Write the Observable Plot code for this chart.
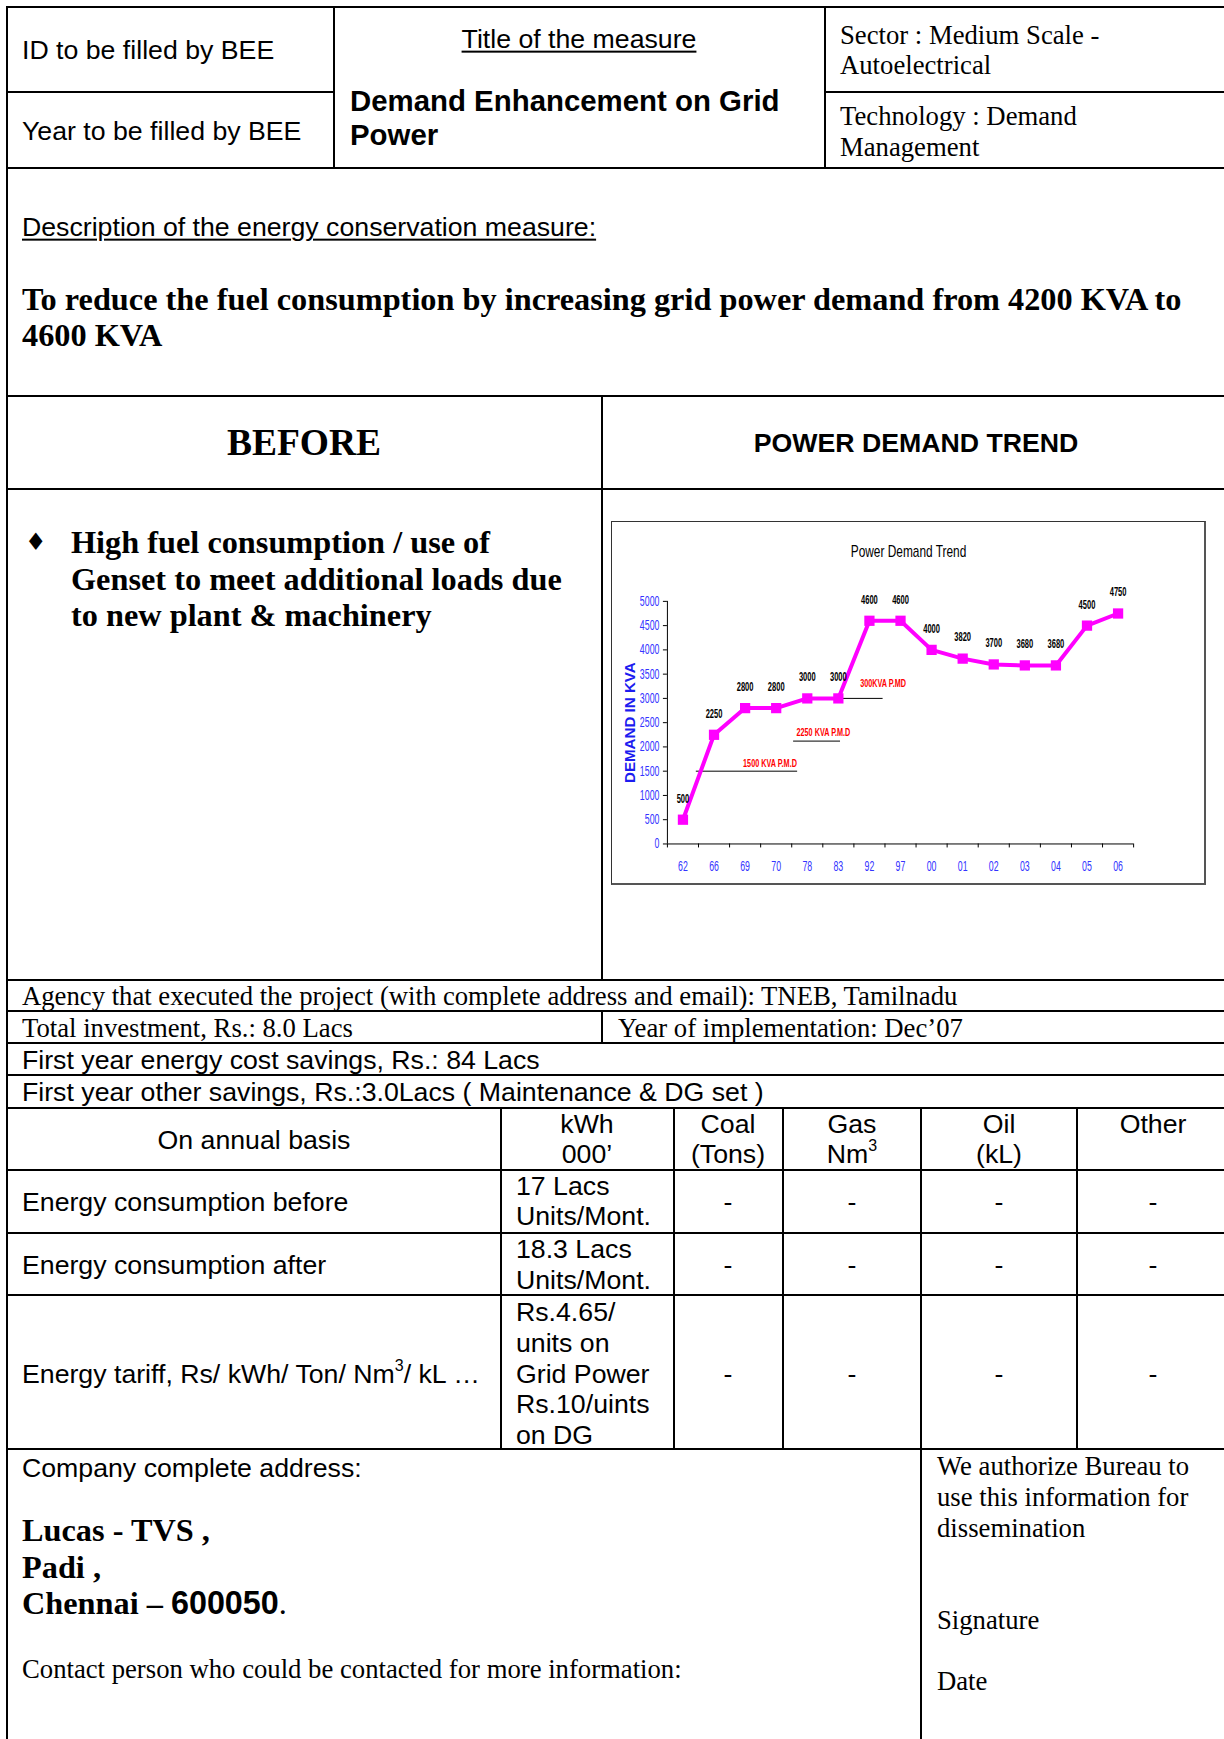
<!DOCTYPE html>
<html><head><meta charset="utf-8">
<script src="https://cdn.jsdelivr.net/npm/d3@7"></script>
<script src="https://cdn.jsdelivr.net/npm/@observablehq/plot@0.6"></script>
<style>
html,body{margin:0;padding:0;background:#fff;}
body{width:1224px;height:1739px;position:relative;overflow:hidden;}
.h{position:absolute;height:2px;background:#000;}
.v{position:absolute;width:2px;background:#000;}
.t{position:absolute;white-space:nowrap;line-height:1.15;color:#000;transform:translateY(-50%);}
.tc{position:absolute;white-space:nowrap;line-height:1.15;color:#000;transform:translate(-50%,-50%);text-align:center;}
.a{font-family:"Liberation Sans",Arial,sans-serif;font-size:26.7px;}
.ab{font-family:"Liberation Sans",Arial,sans-serif;font-size:29.4px;font-weight:bold;}
.s{font-family:"Liberation Serif","Times New Roman",serif;font-size:26.7px;}
.sb{font-family:"Liberation Serif","Times New Roman",serif;font-weight:bold;font-size:32.3px;}
u{text-decoration:underline;text-underline-offset:3px;text-decoration-thickness:2px}
sup{font-size:60%;line-height:0;vertical-align:0.75em}
#chartbox{position:absolute;left:611px;top:521px;width:595px;height:364px;border:1px solid #333;border-right:2px solid #555;border-bottom:2px solid #555;box-sizing:border-box;background:#fff}
#chartbox svg{position:absolute;left:0;top:0}
</style>
</head>
<body>
<!-- horizontal rules -->
<div class="h" style="left:6px;top:6px;width:1218px"></div>
<div class="h" style="left:6px;top:91px;width:328px"></div>
<div class="h" style="left:825px;top:91px;width:399px"></div>
<div class="h" style="left:6px;top:167px;width:1218px"></div>
<div class="h" style="left:6px;top:395px;width:1218px"></div>
<div class="h" style="left:6px;top:488px;width:1218px"></div>
<div class="h" style="left:6px;top:979px;width:1218px"></div>
<div class="h" style="left:6px;top:1010px;width:1218px"></div>
<div class="h" style="left:6px;top:1042px;width:1218px"></div>
<div class="h" style="left:6px;top:1074px;width:1218px"></div>
<div class="h" style="left:6px;top:1107px;width:1218px"></div>
<div class="h" style="left:6px;top:1169px;width:1218px"></div>
<div class="h" style="left:6px;top:1232px;width:1218px"></div>
<div class="h" style="left:6px;top:1294px;width:1218px"></div>
<div class="h" style="left:6px;top:1448px;width:1218px"></div>
<!-- vertical rules -->
<div class="v" style="left:6px;top:6px;height:1733px"></div>
<div class="v" style="left:333px;top:6px;height:162px"></div>
<div class="v" style="left:824px;top:6px;height:162px"></div>
<div class="v" style="left:601px;top:395px;height:585px"></div>
<div class="v" style="left:601px;top:1010px;height:33px"></div>
<div class="v" style="left:500px;top:1107px;height:342px"></div>
<div class="v" style="left:673px;top:1107px;height:342px"></div>
<div class="v" style="left:782px;top:1107px;height:342px"></div>
<div class="v" style="left:920px;top:1107px;height:632px"></div>
<div class="v" style="left:1076px;top:1107px;height:342px"></div>

<!-- header -->
<div class="t a" style="left:22px;top:50px">ID to be filled by BEE</div>
<div class="t a" style="left:22px;top:131px">Year to be filled by BEE</div>
<div class="tc a" style="left:579px;top:39px"><u>Title of the measure</u></div>
<div class="t ab" style="left:350px;top:101px">Demand Enhancement on Grid</div>
<div class="t ab" style="left:350px;top:135px">Power</div>
<div class="t s" style="left:840px;top:35px">Sector : Medium Scale -</div>
<div class="t s" style="left:840px;top:65px">Autoelectrical</div>
<div class="t s" style="left:840px;top:116px">Technology : Demand</div>
<div class="t s" style="left:840px;top:147px">Management</div>

<!-- description -->
<div class="t a" style="left:22px;top:227px"><u>Description of the energy conservation measure:</u></div>
<div class="t sb" style="left:22px;top:300px">To reduce the fuel consumption by increasing grid power demand from 4200 KVA to</div>
<div class="t sb" style="left:22px;top:336px">4600 KVA</div>

<!-- before / trend -->
<div class="tc" style="left:304px;top:443px;font-family:'Liberation Serif',serif;font-weight:bold;font-size:37.5px">BEFORE</div>
<div class="tc" style="left:916px;top:443px;font-family:'Liberation Sans',Arial,sans-serif;font-weight:bold;font-size:26.7px">POWER DEMAND TREND</div>
<div class="t" style="left:25px;top:543px;font-family:'DejaVu Sans',sans-serif;font-size:24px">&#9830;</div>
<div class="t sb" style="left:71px;top:543px">High fuel consumption / use of</div>
<div class="t sb" style="left:71px;top:580px">Genset to meet additional loads due</div>
<div class="t sb" style="left:71px;top:616px">to new plant &amp; machinery</div>

<div id="chartbox"></div>

<!-- info rows -->
<div class="t s" style="left:22px;top:996px">Agency that executed the project (with complete address and email): TNEB, Tamilnadu</div>
<div class="t s" style="left:22px;top:1028px">Total investment, Rs.: 8.0 Lacs</div>
<div class="t s" style="left:618px;top:1028px">Year of implementation: Dec’07</div>
<div class="t a" style="left:22px;top:1060px">First year energy cost savings, Rs.: 84 Lacs</div>
<div class="t a" style="left:22px;top:1092px">First year other savings, Rs.:3.0Lacs ( Maintenance &amp; DG set )</div>

<!-- table header -->
<div class="tc a" style="left:254px;top:1140px">On annual basis</div>
<div class="tc a" style="left:587px;top:1124px">kWh</div>
<div class="tc a" style="left:587px;top:1154px">000’</div>
<div class="tc a" style="left:728px;top:1124px">Coal</div>
<div class="tc a" style="left:728px;top:1154px">(Tons)</div>
<div class="tc a" style="left:852px;top:1124px">Gas</div>
<div class="tc a" style="left:852px;top:1154px">Nm<sup>3</sup></div>
<div class="tc a" style="left:999px;top:1124px">Oil</div>
<div class="tc a" style="left:999px;top:1154px">(kL)</div>
<div class="tc a" style="left:1153px;top:1124px">Other</div>

<!-- table rows -->
<div class="t a" style="left:22px;top:1202px">Energy consumption before</div>
<div class="t a" style="left:516px;top:1186px">17 Lacs</div>
<div class="t a" style="left:516px;top:1216px">Units/Mont.</div>
<div class="t a" style="left:22px;top:1265px">Energy consumption after</div>
<div class="t a" style="left:516px;top:1249px">18.3 Lacs</div>
<div class="t a" style="left:516px;top:1280px">Units/Mont.</div>
<div class="t a" style="left:22px;top:1374px">Energy tariff, Rs/ kWh/ Ton/ Nm<sup>3</sup>/ kL …</div>
<div class="t a" style="left:516px;top:1312px">Rs.4.65/</div>
<div class="t a" style="left:516px;top:1343px">units on</div>
<div class="t a" style="left:516px;top:1374px">Grid Power</div>
<div class="t a" style="left:516px;top:1404px">Rs.10/uints</div>
<div class="t a" style="left:516px;top:1435px">on DG</div>
<div class="tc a" style="left:728px;top:1202px">-</div>
<div class="tc a" style="left:852px;top:1202px">-</div>
<div class="tc a" style="left:999px;top:1202px">-</div>
<div class="tc a" style="left:1153px;top:1202px">-</div>
<div class="tc a" style="left:728px;top:1265px">-</div>
<div class="tc a" style="left:852px;top:1265px">-</div>
<div class="tc a" style="left:999px;top:1265px">-</div>
<div class="tc a" style="left:1153px;top:1265px">-</div>
<div class="tc a" style="left:728px;top:1374px">-</div>
<div class="tc a" style="left:852px;top:1374px">-</div>
<div class="tc a" style="left:999px;top:1374px">-</div>
<div class="tc a" style="left:1153px;top:1374px">-</div>

<!-- address -->
<div class="t a" style="left:22px;top:1468px">Company complete address:</div>
<div class="t sb" style="left:22px;top:1531px">Lucas - TVS ,</div>
<div class="t sb" style="left:22px;top:1568px">Padi ,</div>
<div class="t sb" style="left:22px;top:1604px">Chennai – <span style="font-family:'Liberation Sans',Arial,sans-serif">600050</span><span style="font-weight:normal">.</span></div>
<div class="t s" style="left:22px;top:1669px">Contact person who could be contacted for more information:</div>
<div class="t s" style="left:937px;top:1466px">We authorize Bureau to</div>
<div class="t s" style="left:937px;top:1497px">use this information for</div>
<div class="t s" style="left:937px;top:1528px">dissemination</div>
<div class="t s" style="left:937px;top:1620px">Signature</div>
<div class="t s" style="left:937px;top:1681px">Date</div>

<script>
const years = ["62","66","69","70","78","83","92","97","00","01","02","03","04","05","06"];
const demandKVA = [500,2250,2800,2800,3000,3000,4600,4600,4000,3820,3700,3680,3680,4500,4750];
const yTickValues = [0,500,1000,1500,2000,2500,3000,3500,4000,4500,5000];
const pmdNames = ["1500 KVA P.M.D","2250 KVA P.M.D","300KVA P.MD"];
const pmdLevel = [1500, 2120, 3000];
const pmdFrom = [0.43, 3.56, 5.10];
const pmdTo = [3.69, 5.07, 6.44];
const pmdTextAt = [2.80, 4.52, 6.44];
const pmdTextLevel = [1660, 2290, 3300];
const chartTitle = "Power Demand Trend";
const yTitle = "DEMAND IN KVA";

const rows = years.map((year, i) => ({i, year, kva: demandKVA[i]}));
const pmd = pmdNames.map((name, k) => ({name, level: pmdLevel[k], from: pmdFrom[k], to: pmdTo[k], tx: pmdTextAt[k], ty: pmdTextLevel[k]}));
const bounds = d3.range(-0.5, 15, 1);

const chart = Plot.plot({
  width: 593, height: 361,
  marginLeft: 55, marginTop: 79, marginBottom: 39, marginRight: 71,
  style: {fontFamily: '"Liberation Sans",Arial,sans-serif', fontSize: "14px", background: "transparent", overflow: "visible"},
  x: {type: "linear", domain: [-0.5, 14.5]},
  y: {domain: [0, 5000]},
  marks: [
    Plot.axisY({ticks: yTickValues, tickSize: 4, tickFormat: () => "", label: null, stroke: "#000"}),
    Plot.axisY({ticks: yTickValues, tickSize: 0, tickPadding: 8, tickFormat: d => String(d), label: null, color: "#3333ff", fontSize: 14}),
    Plot.axisX({ticks: bounds, tickSize: 4, tickFormat: () => "", label: null, stroke: "#000"}),
    Plot.axisX({ticks: d3.range(15), tickSize: 0, tickPadding: 17, tickFormat: i => years[i], label: null, color: "#3333ff", fontSize: 14}),
    Plot.ruleY([0], {stroke: "#000", strokeWidth: 1}),
    Plot.ruleX([-0.5], {y1: 0, y2: 5000, stroke: "#000", strokeWidth: 1}),
    Plot.text([yTitle], {frameAnchor: "left", textAnchor: "middle", lineAnchor: "middle", rotate: -90, dx: -37, fill: "#1c1cf0", fontWeight: "bold", fontSize: 14}),
    Plot.text([chartTitle], {frameAnchor: "top", textAnchor: "middle", lineAnchor: "middle", dx: 8, dy: -50, fill: "#000", fontSize: 17}),
    Plot.ruleY(pmd, {x1: "from", x2: "to", y: "level", stroke: "#000", strokeWidth: 1}),
    Plot.text(pmd, {x: "tx", y: "ty", text: "name", fill: "#ff0000", fontWeight: "bold", fontSize: 11}),
    Plot.line(rows, {x: "i", y: "kva", stroke: "#ff00ff", strokeWidth: 4}),
    Plot.dot(rows, {x: "i", y: "kva", symbol: "square", r: 5.8, fill: "#ff00ff", stroke: "none"}),
    Plot.text(rows, {x: "i", y: "kva", text: d => String(d.kva), dy: -21, fill: "#000", fontWeight: "bold", fontSize: 12})
  ]
});
document.getElementById("chartbox").appendChild(chart);
// mimic the tall, condensed chart font of the original by squeezing glyphs horizontally
chart.querySelectorAll("text").forEach(t => {
  const s = t.textContent;
  const w = t.getComputedTextLength();
  if (!(w > 0)) return;
  let len;
  if (s === yTitle) len = 121;
  else if (s === chartTitle) len = w * 0.70;
  else if (pmdNames.includes(s)) len = w * 0.66;
  else len = w * 0.63;
  t.setAttribute("lengthAdjust", "spacingAndGlyphs");
  t.setAttribute("textLength", len.toFixed(1));
});
</script>
</body></html>
